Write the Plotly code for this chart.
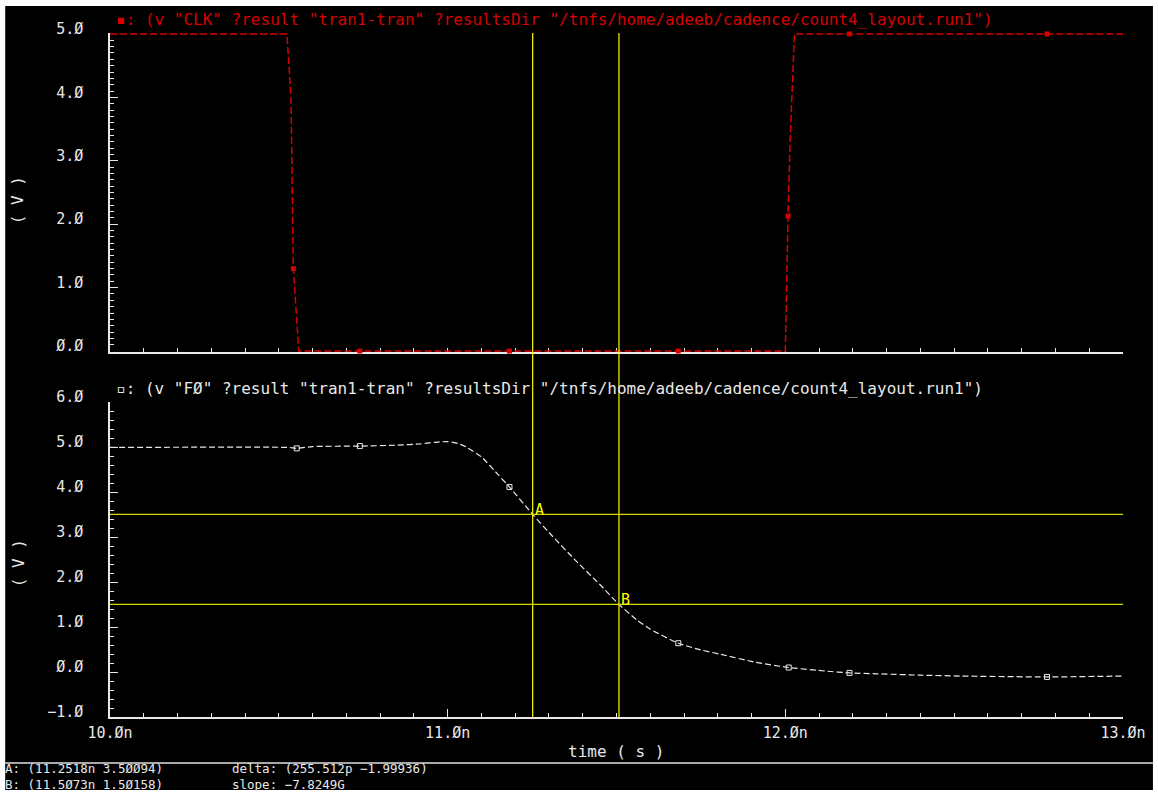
import plotly.graph_objects as go

# ---------------- data ----------------
clk_t = [10.0, 10.524, 10.536, 10.543, 10.559, 12.0, 12.008, 12.014, 12.027, 13.0]
clk_v = [5.0, 5.0, 4.0, 1.3, 0.0, 0.0, 2.13, 3.3, 5.0, 5.0]
clk_mark_t = [10.543, 10.74, 11.183, 11.683, 12.008, 12.19, 12.775]
clk_mark_v = [1.3, 0.0, 0.0, 0.0, 2.13, 5.0, 5.0]

f0_t = [10.0, 10.53, 10.553, 10.6, 10.74, 10.85, 10.92, 10.97, 11.0, 11.03, 11.055,
        11.1, 11.15, 11.183, 11.2518, 11.3, 11.38, 11.45, 11.5073, 11.56, 11.6,
        11.683, 11.75, 11.81, 11.91, 12.01, 12.12, 12.19, 12.27, 12.4, 12.52, 12.775, 13.0]
f0_v = [4.99, 4.99, 4.97, 5.01, 5.02, 5.04, 5.07, 5.11, 5.12, 5.08, 5.0,
        4.78, 4.38, 4.11, 3.50094, 3.1, 2.47, 1.95, 1.50158, 1.16, 0.95,
        0.64, 0.49, 0.39, 0.22, 0.10, 0.02, -0.02, -0.04, -0.07, -0.09, -0.11, -0.09]
f0_mark_t = [10.553, 10.74, 11.183, 11.683, 12.01, 12.19, 12.775]
f0_mark_v = [4.97, 5.02, 4.11, 0.64, 0.10, -0.02, -0.11]

cursor_a = (11.2518, 3.50094)
cursor_b = (11.5073, 1.50158)

x_tickvals = [10, 11, 12, 13]
x_ticktext = ["10.Øn", "11.Øn", "12.Øn", "13.Øn"]
y1_tickvals = [0, 1, 2, 3, 4, 5]
y1_ticktext = ["Ø.Ø", "1.Ø", "2.Ø", "3.Ø", "4.Ø", "5.Ø"]
y2_tickvals = [-1, 0, 1, 2, 3, 4, 5, 6]
y2_ticktext = ["−1.Ø", "Ø.Ø", "1.Ø", "2.Ø", "3.Ø", "4.Ø", "5.Ø", "6.Ø"]

title_clk = '(v "CLK" ?result "tran1-tran" ?resultsDir "/tnfs/home/adeeb/cadence/count4_layout.run1")'
title_f0 = '(v "FØ" ?result "tran1-tran" ?resultsDir "/tnfs/home/adeeb/cadence/count4_layout.run1")'

status_a = "A: (11.2518n 3.5ØØ94)"
status_b = "B: (11.5Ø73n 1.5Ø158)"
status_delta = "delta: (255.512p −1.99936)"
status_slope = "slope: −7.8249G"

# ---------------- geometry helpers ----------------
W, H = 1158, 795
L, R, T, B = 110, 1125, 33, 717


def px(x):
    return (x - L) / (R - L)


def py(y):
    return (B - y) / (B - T)


FONT = "DejaVu Sans Mono"
RED = "#d80000"
WHITE = "#e8e8e8"
YEL = "#ffff00"

fig = go.Figure()

fig.add_trace(go.Scatter(x=clk_t, y=clk_v, mode="lines", xaxis="x", yaxis="y",
                         line=dict(color=RED, width=1.5, dash="7px,3px"),
                         showlegend=False, hoverinfo="skip"))
fig.add_trace(go.Scatter(x=clk_mark_t, y=clk_mark_v, mode="markers", xaxis="x", yaxis="y",
                         marker=dict(symbol="square", size=5, color=RED),
                         showlegend=False, hoverinfo="skip", cliponaxis=False))
fig.add_trace(go.Scatter(x=f0_t, y=f0_v, mode="lines", xaxis="x2", yaxis="y2",
                         line=dict(color=WHITE, width=1.2, dash="6px,3px", shape="spline", smoothing=0.5),
                         showlegend=False, hoverinfo="skip"))
fig.add_trace(go.Scatter(x=f0_mark_t, y=f0_mark_v, mode="markers", xaxis="x2", yaxis="y2",
                         marker=dict(symbol="square-open", size=5, color=WHITE, line=dict(width=1, color=WHITE)),
                         showlegend=False, hoverinfo="skip", cliponaxis=False))

axis_common = dict(showgrid=False, zeroline=False, showline=True, linecolor=WHITE, linewidth=1.5,
                   tickcolor=WHITE, ticks="inside", layer="below traces",
                   tickfont=dict(family=FONT, size=15, color=WHITE))

top_dom = [py(352), 1.0]
bot_dom = [0.0, py(402)]

fig.update_layout(
    width=W, height=H,
    margin=dict(l=L, r=W - R, t=T, b=H - B),
    paper_bgcolor="white", plot_bgcolor="black",
    xaxis=dict(axis_common, domain=[0, 1], anchor="y", range=[10, 13], tickvals=[],
               showticklabels=False,
               minor=dict(dtick=0.1, tick0=10, ticklen=4, ticks="inside", tickcolor=WHITE)),
    yaxis=dict(axis_common, domain=top_dom, anchor="x", range=[-0.015, 5.015],
               tickvals=y1_tickvals, ticktext=y1_ticktext, ticklen=8,
               ticklabelstandoff=22, ticklabelshift=-5,
               minor=dict(dtick=0.1, tick0=0, ticklen=4, ticks="inside", tickcolor=WHITE)),
    xaxis2=dict(axis_common, domain=[0, 1], anchor="y2", range=[10, 13],
                tickvals=x_tickvals, ticktext=x_ticktext, ticklen=8, ticklabelstandoff=1,
                minor=dict(dtick=0.1, tick0=10, ticklen=4, ticks="inside", tickcolor=WHITE)),
    yaxis2=dict(axis_common, domain=bot_dom, anchor="x2", range=[-1, 6],
                tickvals=y2_tickvals, ticktext=y2_ticktext, ticklen=8,
                ticklabelstandoff=22, ticklabelshift=-5,
                minor=dict(dtick=0.2, tick0=0, ticklen=4, ticks="inside", tickcolor=WHITE)),
)

shapes = [
    # black screen
    dict(type="rect", xref="paper", yref="paper", x0=px(5), x1=px(1155), y0=py(790), y1=py(6),
         fillcolor="black", line=dict(width=0), layer="below"),
    # status separator
    dict(type="line", xref="paper", yref="paper", x0=px(5), x1=px(1155), y0=py(763), y1=py(763),
         line=dict(color="#a8a8a8", width=2)),
    # cursor lines
    dict(type="line", xref="x2", yref="paper", x0=cursor_a[0], x1=cursor_a[0], y0=0, y1=1,
         line=dict(color=YEL, width=1.2)),
    dict(type="line", xref="x2", yref="paper", x0=cursor_b[0], x1=cursor_b[0], y0=0, y1=1,
         line=dict(color=YEL, width=1.2)),
    dict(type="line", xref="paper", yref="y2", x0=0, x1=1, y0=cursor_a[1], y1=cursor_a[1],
         line=dict(color="#d8d800", width=1.2)),
    dict(type="line", xref="paper", yref="y2", x0=0, x1=1, y0=cursor_b[1], y1=cursor_b[1],
         line=dict(color="#d8d800", width=1.2)),
]
fig.update_layout(shapes=shapes)

ann = []


def text(x, y, s, color=WHITE, size=16, xanchor="left", angle=0, xref="paper", yref="paper"):
    ann.append(dict(x=x, y=y, xref=xref, yref=yref, text=s, showarrow=False,
                    xanchor=xanchor, yanchor="middle", textangle=angle, align="left",
                    font=dict(family=FONT, size=size, color=color)))


text(px(114), py(20), "▪: " + title_clk, color=RED, size=16)
text(px(114), py(388), "▫: " + title_f0, color=WHITE, size=16)
text(px(18), py(200), "( V )", size=16, xanchor="center", angle=-90)
text(px(18), py(563), "( V )", size=16, xanchor="center", angle=-90)
text(px(617), py(751), "time ( s )", size=16, xanchor="center")
text(px(3), py(776), status_a + "<br>" + status_b, size=12.5)
text(px(230), py(776), status_delta + "<br>" + status_slope, size=12.5)

ann.append(dict(x=cursor_a[0], y=cursor_a[1], xref="x2", yref="y2", text="A", showarrow=False,
                xanchor="left", yanchor="bottom", xshift=0, yshift=-7,
                font=dict(family=FONT, size=15, color=YEL)))
ann.append(dict(x=cursor_b[0], y=cursor_b[1], xref="x2", yref="y2", text="B", showarrow=False,
                xanchor="left", yanchor="bottom", xshift=0, yshift=-7,
                font=dict(family=FONT, size=15, color=YEL)))
fig.update_layout(annotations=ann)

fig.write_html("out.html")
